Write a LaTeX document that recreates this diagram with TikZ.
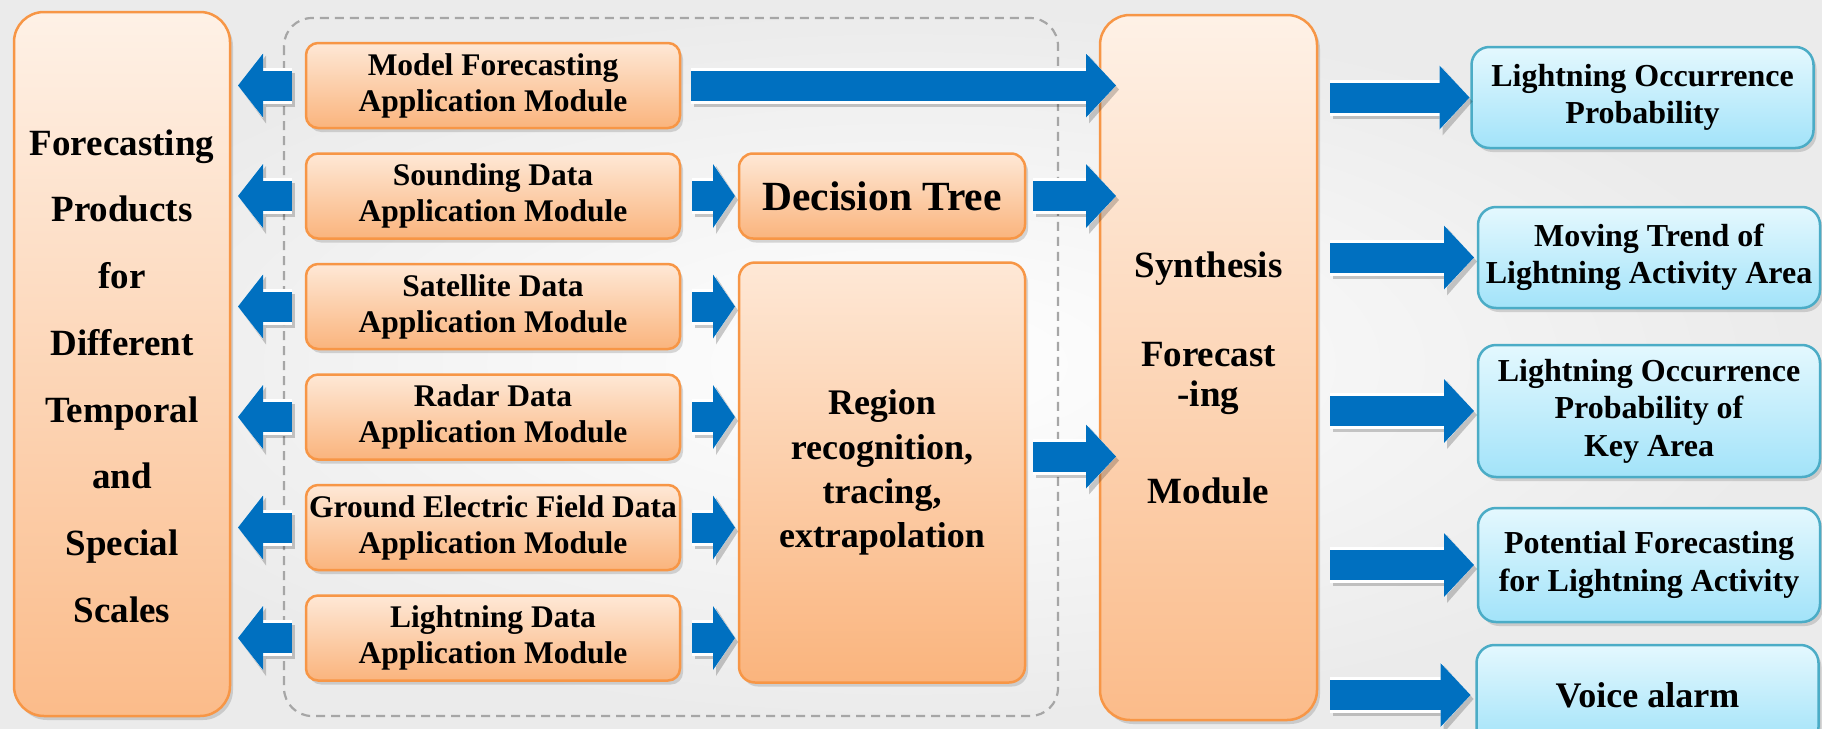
\documentclass[tikz,border=0pt]{standalone}
\usepackage{fontspec}
\setmainfont{Liberation Serif}
\usetikzlibrary{positioning,arrows.meta,shadows}

\definecolor{peachline}{RGB}{247,150,70}
\definecolor{peachtop}{RGB}{254,232,214}
\definecolor{peachlow}{RGB}{250,180,125}
\definecolor{tealline}{RGB}{75,172,198}
\definecolor{tealtop}{RGB}{228,248,254}
\definecolor{teallow}{RGB}{162,227,249}
\definecolor{flowblue}{RGB}{0,112,192}
\definecolor{framegray}{RGB}{166,166,166}

\tikzset{
  box/.style={draw=peachline, line width=2.5pt, outer sep=0pt, inner sep=0pt, align=center,
    top color=peachtop, bottom color=peachlow,
    drop shadow={shadow xshift=3pt, shadow yshift=-4pt, opacity=0.3}},
  module/.style={box, rounded corners=12pt, minimum width=374pt, minimum height=85pt,
    font=\fontsize{31.5}{36}\selectfont\bfseries},
  tall/.style={box, rounded corners=30pt, top color=peachtop!60!white, bottom color=peachlow!90!white},
  product/.style={draw=tealline, line width=2.5pt, outer sep=0pt, inner sep=0pt, align=center,
    rounded corners=18pt, top color=tealtop, bottom color=teallow, minimum width=342pt,
    font=\fontsize{32}{37.5}\selectfont\bfseries,
    drop shadow={shadow xshift=3pt, shadow yshift=-4pt, opacity=0.3}},
  fat/.style={draw=flowblue, line width=30pt,
    -{Triangle[length=#1, width=64pt, line width=0pt]},
    preaction={draw=black, opacity=0.2, line width=34pt, transform canvas={shift={(3pt,-4pt)}},
      -{Triangle[length=#1, width=68pt, line width=0pt]}},
    preaction={draw=white, line width=36pt, -{Triangle[length=#1, width=64pt, line width=6pt]}}},
  fat/.default=30pt
}

\begin{document}
\begin{tikzpicture}[x=1pt, y=-1pt]
  \clip (0,0) rectangle (1822,728);
  \shade[inner color=white, outer color=black!8] (0,0) rectangle (1822,728);

  % inputs group
  \draw[framegray, line width=2.2pt, dash pattern=on 9pt off 6pt, rounded corners=28pt]
    (284,18) rectangle (1058,716);

  % left column
  \node[tall, minimum width=216pt, minimum height=704pt] (prod) at (122,364) {};
  \node[font=\fontsize{37}{66.7}\selectfont\bfseries, align=center] (prodtext)
    at ([yshift=-12pt]prod.center)
    {Forecasting\\Products\\for\\Different\\Temporal\\and\\Special\\Scales};

  % application modules
  \node[module] (m1) at (493,85.5) {Model Forecasting\\Application Module};
  \node[module, below=25.5pt of m1] (m2) {Sounding Data\\Application Module};
  \node[module, below=25.5pt of m2] (m3) {Satellite Data\\Application Module};
  \node[module, below=25.5pt of m3] (m4) {Radar Data\\Application Module};
  \node[module, below=25.5pt of m4] (m5) {Ground Electric Field Data\\Application Module};
  \node[module, below=25.5pt of m5] (m6) {Lightning Data\\Application Module};

  \node[box, rounded corners=14pt, minimum width=286pt, minimum height=85pt,
    font=\fontsize{41.5}{48}\selectfont\bfseries, right=59pt of m2] (tree) {Decision Tree};
  \node[box, rounded corners=16pt, minimum width=286pt, minimum height=420pt,
    font=\fontsize{36}{44.3}\selectfont\bfseries, below=24pt of tree] (region)
    {Region\\recognition,\\tracing,\hspace*{30pt}\\extrapolation};

  % synthesis
  \node[tall, minimum width=217pt, minimum height=705pt] (synth) at (1208.5,367.5) {};
  \node[font=\fontsize{37}{40}\selectfont\bfseries, align=center] (synthtext)
    at ([yshift=-10pt]synth.center) {Synthesis\\[49pt]Forecast\\-ing\\[57pt]Module};

  % products
  \node[product, minimum height=101pt] (o1) at (1642.5,97.5) {Lightning Occurrence\\Probability};
  \node[product, minimum height=101pt] (o2) at (1649,257.5) {Moving Trend of\\Lightning Activity Area};
  \node[product, minimum height=132pt] (o3) at (1649,411) {Lightning Occurrence\\Probability of\\Key Area};
  \node[product, minimum height=114pt] (o4) at (1649,565) {Potential Forecasting\\for Lightning Activity};
  \node[product, minimum height=100pt, font=\fontsize{36}{40}\selectfont\bfseries] (o5)
    at (1647.5,695) {Voice alarm};

  % arrows
  \draw[fat=25pt, shorten <=14pt, shorten >=8pt] (m1.west) -- (m1.west -| prod.east);
  \draw[fat=25pt, shorten <=14pt, shorten >=8pt] (m2.west) -- (m2.west -| prod.east);
  \draw[fat=25pt, shorten <=14pt, shorten >=8pt] (m3.west) -- (m3.west -| prod.east);
  \draw[fat=25pt, shorten <=14pt, shorten >=8pt] (m4.west) -- (m4.west -| prod.east);
  \draw[fat=25pt, shorten <=14pt, shorten >=8pt] (m5.west) -- (m5.west -| prod.east);
  \draw[fat=25pt, shorten <=14pt, shorten >=8pt] (m6.west) -- (m6.west -| prod.east);

  \draw[fat=22pt, shorten <=12pt, shorten >=4pt] (m2.east) -- (tree.west);
  \draw[fat=22pt, shorten <=12pt, shorten >=4pt] (m3.east) -- (m3.east -| region.west);
  \draw[fat=22pt, shorten <=12pt, shorten >=4pt] (m4.east) -- (m4.east -| region.west);
  \draw[fat=22pt, shorten <=12pt, shorten >=4pt] (m5.east) -- (m5.east -| region.west);
  \draw[fat=22pt, shorten <=12pt, shorten >=4pt] (m6.east) -- (m6.east -| region.west);

  \draw[fat, shorten <=11pt, shorten >=-16pt] (m1.east) -- (m1.east -| synth.west);
  \draw[fat, shorten <=8pt, shorten >=-16pt] (tree.east) -- (tree.east -| synth.west);
  \draw[fat, shorten <=8pt, shorten >=-16pt] ([yshift=16pt]region.east) -- ([yshift=16pt]region.east -| synth.west);

  \draw[fat, shorten <=13pt, shorten >=2pt] (o1.west -| synth.east) -- (o1.west);
  \draw[fat, shorten <=13pt, shorten >=4pt] (o2.west -| synth.east) -- (o2.west);
  \draw[fat, shorten <=13pt, shorten >=4pt] (o3.west -| synth.east) -- (o3.west);
  \draw[fat, shorten <=13pt, shorten >=4pt] (o4.west -| synth.east) -- (o4.west);
  \draw[fat, shorten <=13pt, shorten >=6pt] (o5.west -| synth.east) -- (o5.west);
\end{tikzpicture}
\end{document}
